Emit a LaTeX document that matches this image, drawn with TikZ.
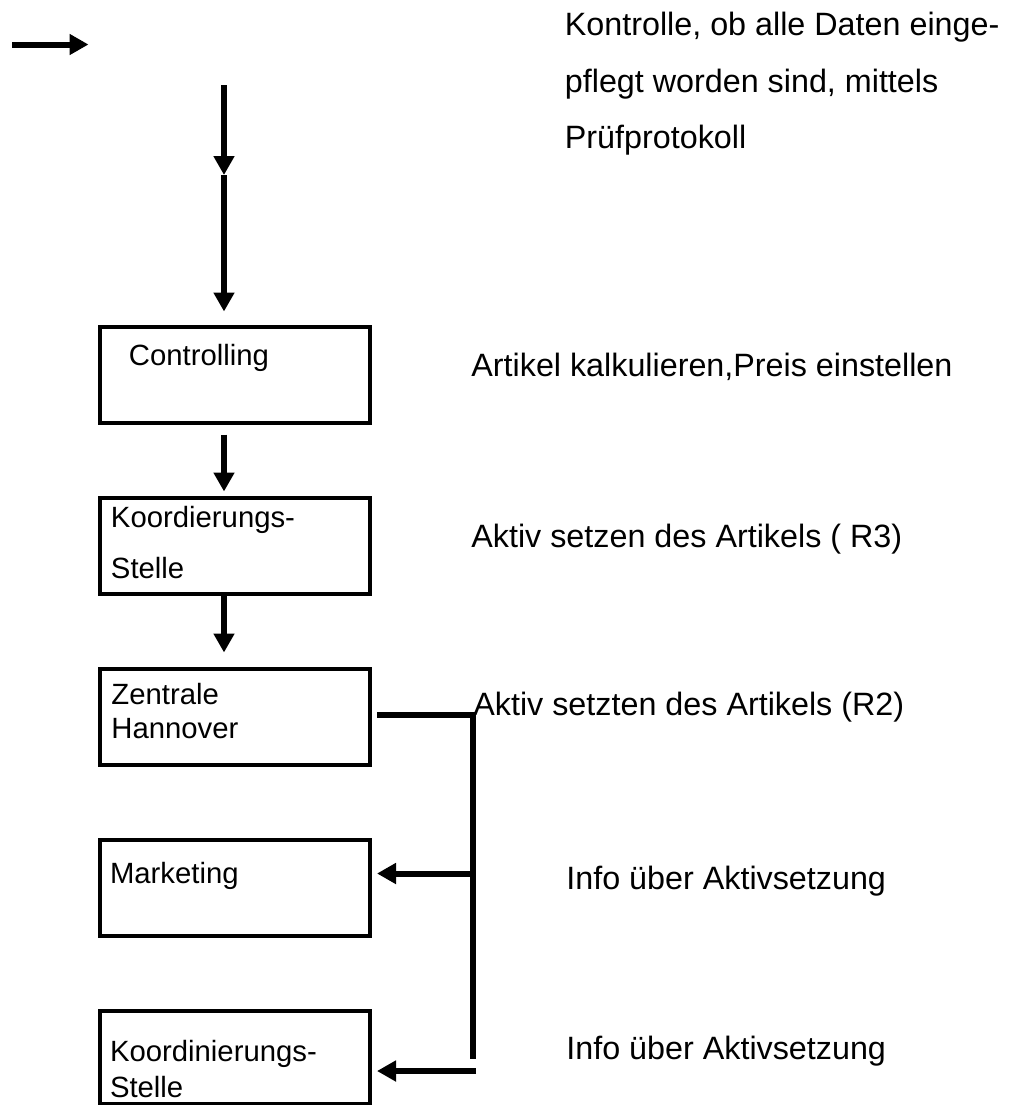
\documentclass[tikz,border=0pt]{standalone}
\usepackage{fontspec}
\setmainfont{Liberation Sans}
\usetikzlibrary{positioning, arrows.meta}

\begin{document}
\begin{tikzpicture}
        [
            x=0.5pt, y=-0.5pt,
            box/.style={rectangle, draw, line width=2pt, minimum width=135pt,
                        minimum height=48pt, inner sep=0pt},
            boxtext/.style={anchor=base west, inner sep=0pt, align=left,
                            font=\fontsize{14.65}{#1}\selectfont},
            boxtext/.default=17,
            note/.style={anchor=base west, inner sep=0pt, align=left,
                         font=\fontsize{16.15}{28.15}\selectfont},
            flow/.style={line width=3pt, -{Triangle[length=9.5pt, width=10pt]}},
            bus/.style={line width=3pt}
        ]
        \useasboundingbox (0,0) rectangle (1011,1105);
        \node (ctrl) [box] at (235,374.5) {};
        \node (koord) [box, below=35.5pt of ctrl] {};
        \node (zent) [box, below=35.5pt of koord] {};
        \node (mkt) [box, below=35.5pt of zent] {};
        \node (koord2) [box, minimum height=46.5pt, below=35.5pt of mkt] {};
        % box texts (base = last line)
        \node (ctrlT) [boxtext] at ([xshift=15.25pt, yshift=-20.5pt]ctrl.north west)
            {Controlling};
        \node (koordT) [boxtext=25.5] at ([xshift=6.3pt, yshift=-41.5pt]koord.north west)
            {Koordierungs-\\Stelle};
        \node (zentT) [boxtext] at ([xshift=6.5pt, yshift=-36pt]zent.north west)
            {Zentrale\\Hannover};
        \node (mktT) [boxtext] at ([xshift=5.8pt, yshift=-23pt]mkt.north west)
            {Marketing};
        \node (koord2T) [boxtext=18] at ([xshift=5.8pt, yshift=-44.5pt]koord2.north west)
            {Koordinierungs-\\Stelle};
        % texts on the right
        \node (check) [note] at (564.5,148.3)
            {Kontrolle, ob alle Daten einge-\\pflegt worden sind, mittels\\Prüfprotokoll};
        \node (calc) [note] at (471,376) {Artikel kalkulieren,Preis einstellen};
        \node (act3) [note] at (471,547) {Aktiv setzen des Artikels ( R3)};
        \node (act2) [note] at (473,715) {Aktiv setzten des Artikels (R2)};
        \node (info1) [note] at (566,889) {Info über Aktivsetzung};
        \node (info2) [note] at (566,1059) {Info über Aktivsetzung};
        % arrows
        \coordinate (go) at (12,44.5);
        \coordinate (goTip) at (88.5,44.5);
        \coordinate (feed) at (224,85);
        \coordinate (feedMid) at (224,175);
        \draw [flow] (go) -- (goTip);
        \draw [flow] (feed) -- (feedMid);
        \draw [flow] (feedMid) -- ([xshift=-5.5pt, yshift=6.5pt]ctrl.north);
        \draw [flow] ([xshift=-5.5pt, yshift=-5pt]ctrl.south)
                     -- ([xshift=-5.5pt, yshift=2pt]koord.north);
        \draw [flow] ([xshift=-5.5pt]koord.south) -- ([xshift=-5.5pt, yshift=7pt]zent.north);
        \coordinate (busEnd) at (473,1059);
        \draw [bus] ([xshift=2.5pt, yshift=1pt]zent.east) -| (busEnd);
        \coordinate (tapM) at (473,873.5);
        \coordinate (tapK) at (476,1071);
        \draw [flow] (tapM) -- ([xshift=2.5pt, yshift=7pt]mkt.east);
        \draw [flow] (tapK) -- ([xshift=2.5pt, yshift=-7pt]koord2.east);
    \end{tikzpicture}
\end{document}
